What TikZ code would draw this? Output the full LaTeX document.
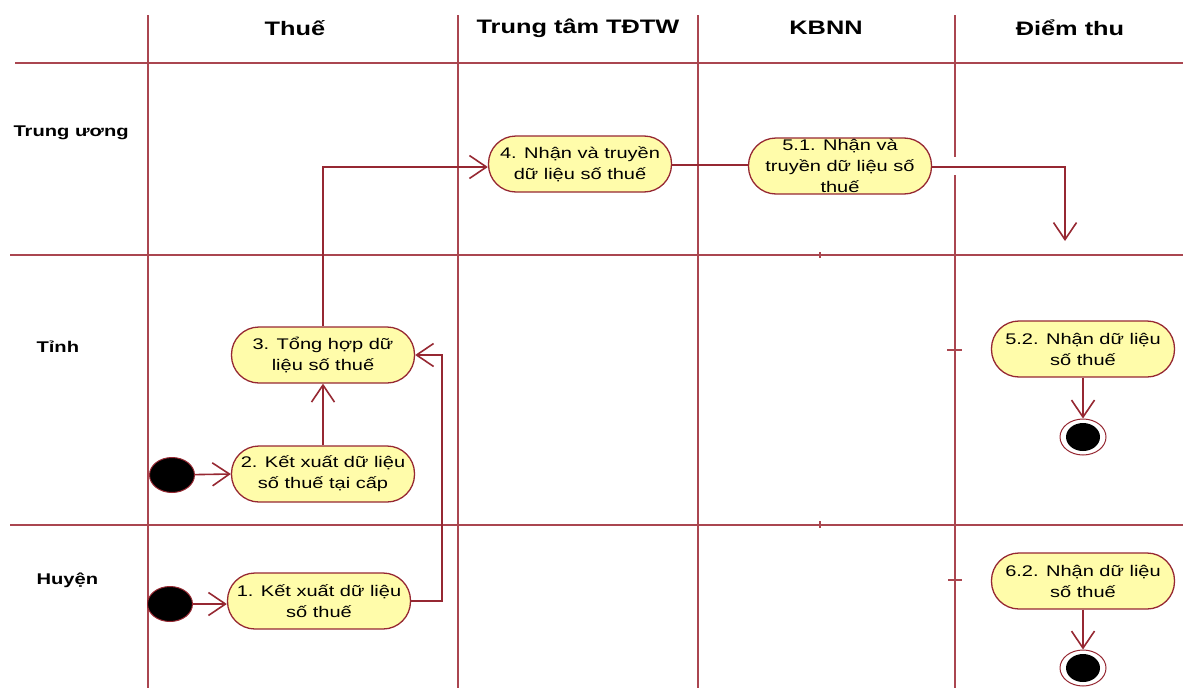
\documentclass[tikz,border=0pt]{standalone}
\usepackage{fontspec}
\setmainfont{Liberation Sans}
\newfontfamily\widesans[FakeStretch=1.3]{Liberation Sans}
\usetikzlibrary{shapes.geometric,arrows.meta}

\definecolor{laneline}{RGB}{170,70,80}
\definecolor{flowline}{RGB}{150,40,50}
\definecolor{actfill}{RGB}{255,252,170}

\tikzset{
  lane/.style={draw=laneline, line width=1.6pt},
  act/.style={rectangle, rounded corners=27.5pt, draw=flowline, fill=actfill, line width=1.3pt,
    minimum width=183pt, minimum height=56pt, inner xsep=2pt, inner ysep=0pt,
    align=center, text=black, font=\widesans\fontsize{15.4}{21}\selectfont},
  startnode/.style={ellipse, draw=flowline, fill=black, line width=1pt,
    minimum width=45pt, minimum height=35pt, inner sep=0pt},
  endnode/.style={ellipse, draw=flowline, fill=white, line width=1pt,
    minimum width=46pt, minimum height=36pt, inner sep=0pt},
  header/.style={font=\widesans\bfseries\fontsize{19.5}{22}\selectfont, text=black},
  levellabel/.style={anchor=west, font=\widesans\bfseries\fontsize{15.5}{18}\selectfont, text=black},
  flow/.style={draw=flowline, line width=1.6pt},
  flowarrow/.style={flow, -{Straight Barb[length=17pt,width=23pt,line width=1.6pt]}},
}

\begin{document}
\begin{tikzpicture}[x=1pt,y=-1pt]
  \useasboundingbox (0,0) rectangle (1183,688);

  % swimlane grid
  \draw[lane] (15,63) -- (1183,63);
  \draw[lane] (10,255) -- (1183,255);
  \draw[lane] (10,525) -- (1183,525);
  \draw[lane] (148,15) -- (148,688);
  \draw[lane] (458,15) -- (458,688);
  \draw[lane] (698,15) -- (698,688);
  \draw[lane] (955,15) -- (955,157);
  \draw[lane] (955,175) -- (955,688);
  \draw[lane] (947,350) -- (962,350);
  \draw[lane] (948,580) -- (962,580);
  \draw[lane] (820,252) -- (820,258);
  \draw[lane] (820,521) -- (820,528);

  % column headers
  \node[header] (hthue) at (295,28) {Thuế};
  \node[header] (htdtw) at (578,28) {Trung tâm TĐTW};
  \node[header] (hkbnn) at (826,28) {KBNN};
  \node[header] (hdiem) at (1070,28) {Điểm thu};

  % level labels
  \node[levellabel] (ltw) at (10,133) {Trung ương};
  \node[levellabel] (ltinh) at (33,347) {Tỉnh};
  \node[levellabel] (lhuyen) at (33,580) {Huyện};

  % activities
  \node[act] (n4) at (580,164) {4. Nhận và truyền\\dữ liệu số thuế};
  \node[act] (n51) at (840,166) {5.1. Nhận và\\truyền dữ liệu số\\thuế};
  \node[act] (n3) at (323,355) {3. Tổng hợp dữ\\liệu số thuế};
  \node[act] (n2) at (323,474) {2. Kết xuất dữ liệu\\số thuế tại cấp};
  \node[act] (n1) at (319,601) {1. Kết xuất dữ liệu\\số thuế};
  \node[act] (n52) at (1083,349) {5.2. Nhận dữ liệu\\số thuế};
  \node[act] (n62) at (1083,581) {6.2. Nhận dữ liệu\\số thuế};

  % initial and final states
  \node[startnode] (s2) at (172,475) {};
  \node[startnode] (s1) at (170,604) {};
  \node[endnode] (f1) at (1083,437) {};
  \node[endnode] (f2) at (1083,668) {};
  \fill (f1) ellipse [x radius=17pt, y radius=14pt];
  \fill (f2) ellipse [x radius=17pt, y radius=14pt];

  % flows
  \coordinate (bendA) at (442,601);
  \coordinate (bendB) at (442,355);
  \coordinate (bendC) at (323,167);
  \coordinate (bendD) at (1065,167);
  \coordinate (dropEnd) at (1065,241);

  \draw[flowarrow] (s2) -- (n2.west);
  \draw[flowarrow] (s1) -- (s1 -| n1.west);
  \draw[flowarrow] (n2) -- (n3);
  \draw[flowarrow] (n1.east) -- (bendA) -- (bendB) -- (n3.east);
  \draw[flowarrow] (n3.north) -- (bendC) -- (bendC -| n4.west);
  \draw[flow] (n4.east |- 0,165) -- (n51.west |- 0,165);
  \draw[flowarrow] (n51.east |- bendD) -- (bendD) -- (dropEnd);
  \draw[flowarrow] (n52.south) -- (f1.north);
  \draw[flowarrow] (n62.south) -- (f2.north);
\end{tikzpicture}
\end{document}
